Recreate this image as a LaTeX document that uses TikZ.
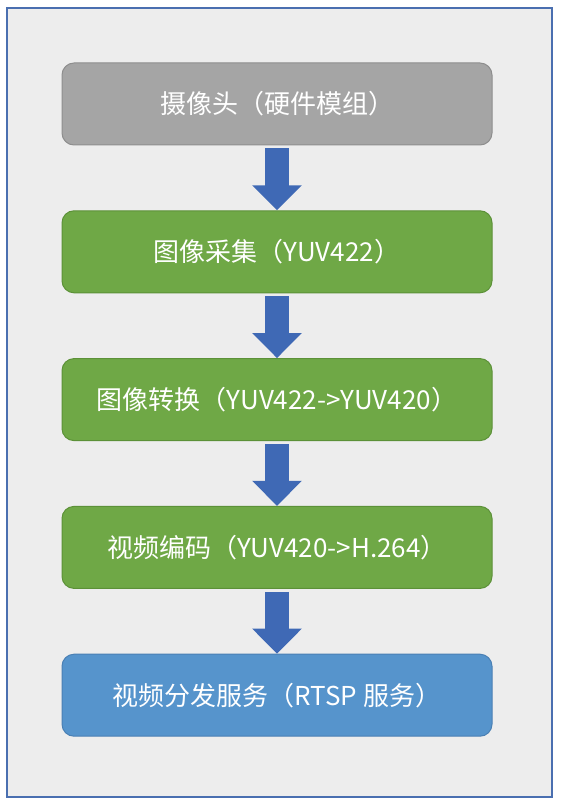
\documentclass[tikz,border=0pt]{standalone}
\usepackage{fontspec}
\setmainfont{Noto Sans CJK SC}
\usetikzlibrary{positioning,arrows.meta}
\definecolor{framebg}{HTML}{EDEDED}
\definecolor{frameline}{HTML}{4A6FB0}
\definecolor{hwgray}{HTML}{A5A5A5}
\definecolor{hwgrayline}{HTML}{8E8E8E}
\definecolor{stepgreen}{HTML}{6FA846}
\definecolor{stepgreenline}{HTML}{5C9138}
\definecolor{srvblue}{HTML}{5694CC}
\definecolor{srvblueline}{HTML}{4A80B4}
\definecolor{arrowblue}{HTML}{3F69B5}

\begin{document}
\begin{tikzpicture}[
  x=1pt, y=-1pt,
  node distance=64.8pt,
  box/.style={draw, rounded corners=12pt, align=center, text=white,
              font=\fontsize{26}{30}\selectfont, line width=1pt,
              minimum width=430pt, minimum height=82pt, inner sep=0pt},
  hwbox/.style={box, fill=hwgray, draw=hwgrayline},
  procbox/.style={box, fill=stepgreen, draw=stepgreenline},
  srvbox/.style={box, fill=srvblue, draw=srvblueline},
  flow/.style={draw=arrowblue, line width=24pt, shorten <=3pt,
               -{Triangle[width=48pt, length=25pt]}}
]
\useasboundingbox (0,0) rectangle (563,805);
\draw[fill=framebg, draw=frameline, line width=1.5pt] (7,8) rectangle (552,797);

\node[hwbox] (camera) at (277,104) {摄像头（硬件模组）};
\node[procbox, below=of camera] (capture) {图像采集（YUV422）};
\node[procbox, below=of capture] (convert) {图像转换（YUV422->YUV420）};
\node[procbox, below=of convert] (encode) {视频编码（YUV420->H.264）};
\node[srvbox, below=of encode] (rtsp) {视频分发服务（RTSP 服务）};

\draw[flow] (camera) -- (capture);
\draw[flow] (capture) -- (convert);
\draw[flow] (convert) -- (encode);
\draw[flow] (encode) -- (rtsp);
\end{tikzpicture}
\end{document}
